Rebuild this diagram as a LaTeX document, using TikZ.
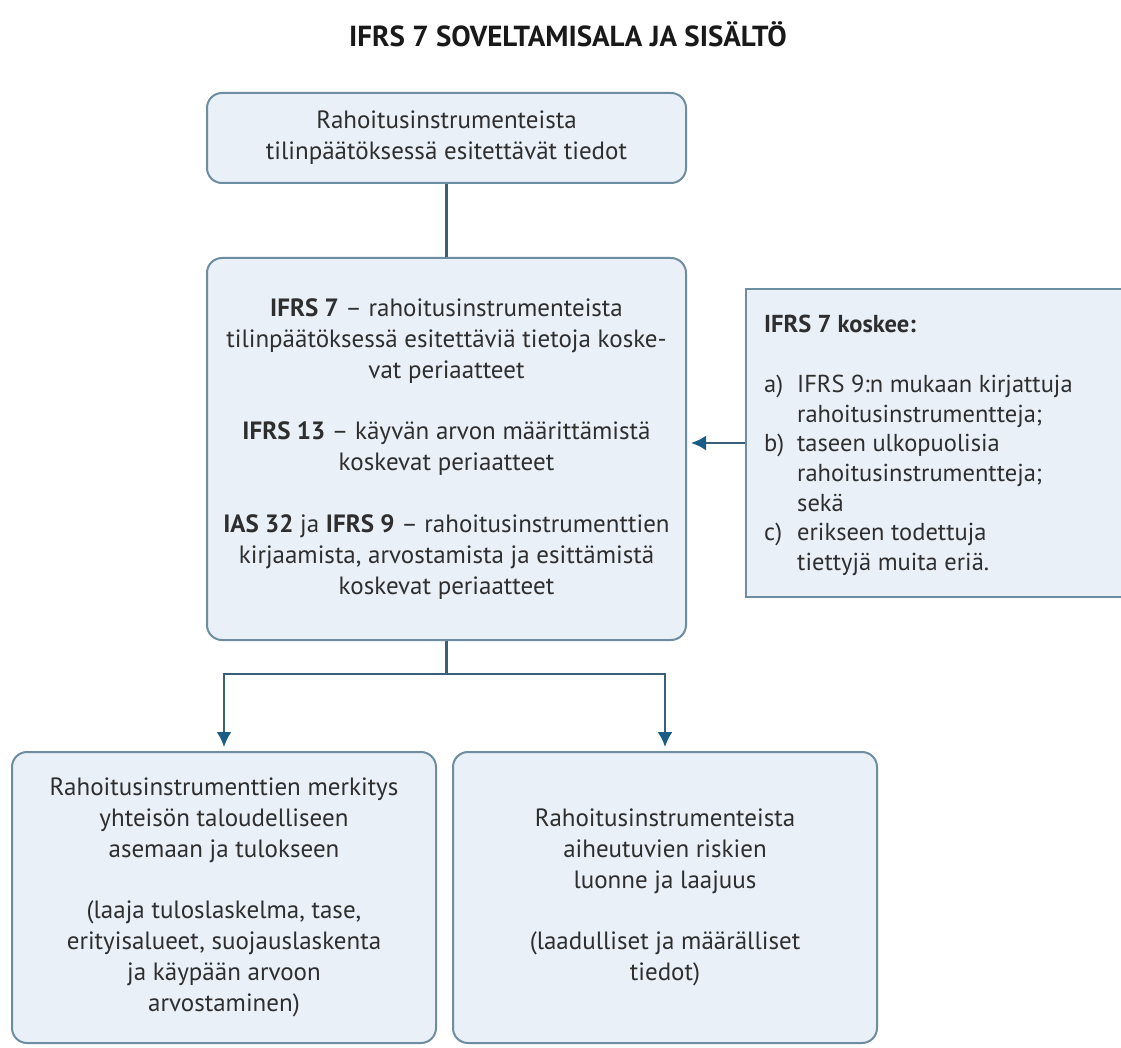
\documentclass[tikz,border=0pt]{standalone}
\usepackage{fontspec}
\setmainfont{PT Sans}
\usetikzlibrary{arrows.meta}
\definecolor{boxfill}{HTML}{E9F0F8}
\definecolor{boxline}{HTML}{6F8DA1}
\definecolor{conn}{HTML}{3A6079}
\definecolor{arr}{HTML}{1A5C86}
\definecolor{txt}{HTML}{2E2E2E}
\begin{document}
\begin{tikzpicture}[x=1pt,y=-1pt,
  mainfont/.style={font=\fontsize{25}{31}\selectfont},
  box/.style={draw=boxline, line width=2pt, fill=boxfill, rounded corners=15pt,
    inner sep=0pt, text=txt, align=center, mainfont},
  sqbox/.style={draw=boxline, line width=2pt, fill=boxfill, inner sep=0pt},
  conline/.style={draw=conn, line width=2.4pt},
  arrline/.style={conline, -{Latex[length=15pt,width=15pt,color=arr]}, shorten >=4pt}]
\useasboundingbox (0,0) rectangle (1121,1048);
\fill[white] (0,0) rectangle (1121,1048);

\node[font=\bfseries\fontsize{29}{33}\selectfont, text=black!90] (title) at (568,34)
  {IFRS 7 SOVELTAMISALA JA SISÄLTÖ};

\node[box, minimum width=479pt, minimum height=90pt] (top) at (446.5,138)
  {Rahoitusinstrumenteista\\tilinpäätöksessä esitettävät tiedot};

\node[box, minimum width=479pt, minimum height=382pt] (mid) at (446.5,449)
  {\textbf{IFRS 7} – rahoitusinstrumenteista\\
   tilinpäätöksessä esitettäviä tietoja koske-\\
   vat periaatteet\\[30.5pt]
   \textbf{IFRS 13} – käyvän arvon määrittämistä\\
   koskevat periaatteet\\[30.5pt]
   \textbf{IAS 32} ja \textbf{IFRS 9} – rahoitusinstrumenttien\\
   kirjaamista, arvostamista ja esittämistä\\
   koskevat periaatteet};

\node[sqbox, minimum width=420pt, minimum height=308pt, anchor=north west] (rk) at (745,288) {};
\node[anchor=base west, inner sep=0pt, text=txt, font=\fontsize{24.5}{29.7}\selectfont] (rkt) at (764,333)
  {\begin{tabular}[t]{@{}p{33pt}@{}l@{}}
   \multicolumn{2}{@{}l@{}}{\textbf{IFRS 7 koskee:}}\\[29.7pt]
   a) & IFRS 9:n mukaan kirjattuja\\
      & rahoitusinstrumentteja;\\
   b) & taseen ulkopuolisia\\
      & rahoitusinstrumentteja;\\
      & sekä\\
   c) & erikseen todettuja\\
      & tiettyjä muita eriä.
   \end{tabular}};

\node[box, minimum width=424pt, minimum height=291pt] (lb) at (224,897.5)
  {Rahoitusinstrumenttien merkitys\\
   yhteisön taloudelliseen\\
   asemaan ja tulokseen\\[30.5pt]
   (laaja tuloslaskelma, tase,\\
   erityisalueet, suojauslaskenta\\
   ja käypään arvoon\\
   arvostaminen)};

\node[box, minimum width=424pt, minimum height=291pt] (rb) at (665,897.5)
  {Rahoitusinstrumenteista\\
   aiheutuvien riskien\\
   luonne ja laajuus\\[30.5pt]
   (laadulliset ja määrälliset\\
   tiedot)};

\draw[conline] (top.south) -- (mid.north);
\draw[arrline] (rk.west) -- (mid.east |- rk.west);
\draw[conline] (mid.south) -- ++(0,33) coordinate (j);
\draw[arrline] (j) -| (lb.north);
\draw[arrline] (j) -| (rb.north);
\end{tikzpicture}
\end{document}
